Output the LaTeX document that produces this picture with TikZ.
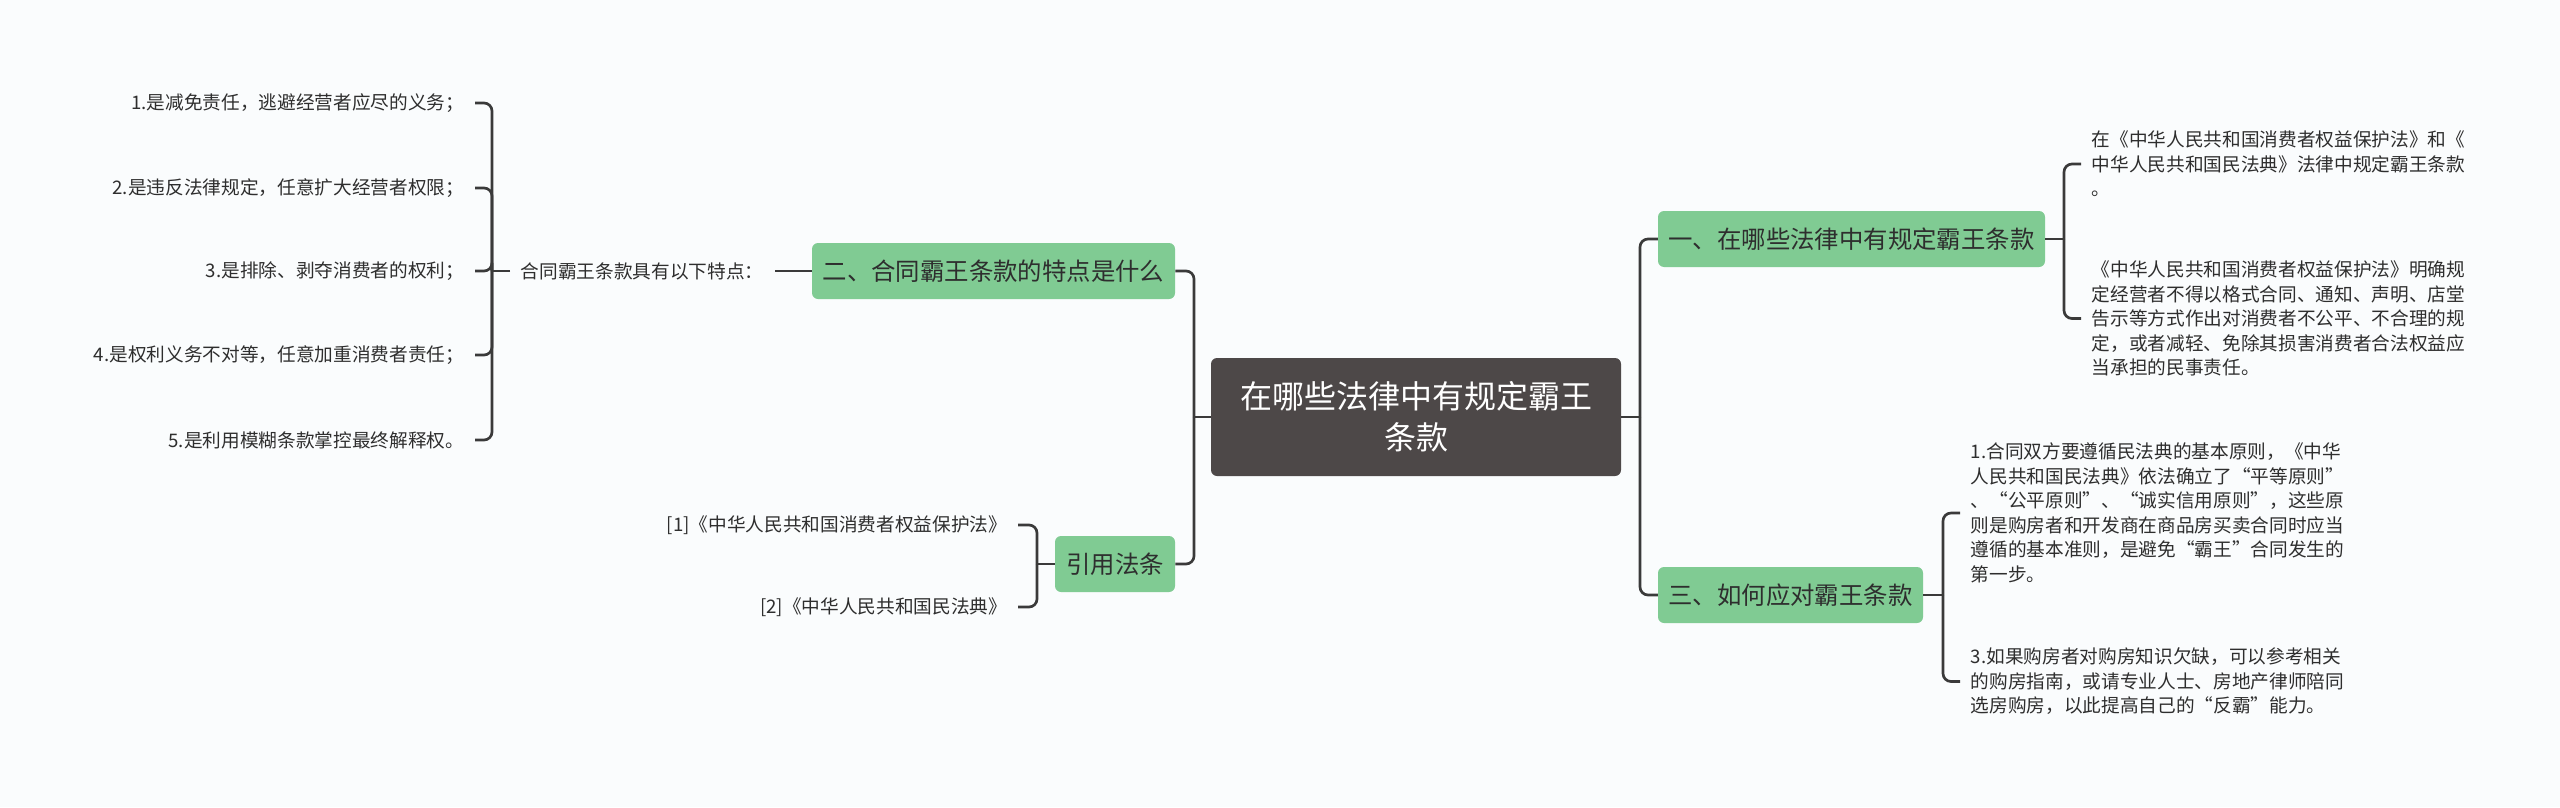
\documentclass[tikz,border=0pt]{standalone}
\usepackage{fontspec}
\setmainfont{Noto Sans CJK SC}
\definecolor{bgpaper}{HTML}{FAFCFD}
\definecolor{rootfill}{HTML}{4D4848}
\definecolor{topicfill}{HTML}{80CB93}
\definecolor{linkgray}{HTML}{3A3A3A}
\definecolor{inkgray}{HTML}{2E2E2E}
\begin{document}
\begin{tikzpicture}[
    x=0.75pt, y=-0.75pt,
    link/.style={draw=linkgray, line width=2pt, rounded corners=6pt},
    rootbox/.style={fill=rootfill, rounded corners=4.5pt, text=white,
                    align=center, minimum width=307.5pt, minimum height=88.5pt,
                    font=\fontsize{24pt}{30.75pt}\selectfont},
    topic/.style={fill=topicfill, rounded corners=4.5pt, text=inkgray,
                  minimum height=42pt, inner xsep=4pt,
                  font=\fontsize{18.3pt}{22pt}\selectfont},
    leaf/.style={text=inkgray, inner xsep=8pt, inner ysep=0pt, align=left,
                 font=\fontsize{14pt}{18.4pt}\selectfont}]
  \fill[bgpaper] (0,0) rectangle (2560,807);

  % centre and main topics
  \node[rootbox] (root) at (1416,417) {在哪些法律中有规定霸王\\条款};
  \node[topic, minimum width=290.25pt] (law)   at (1851.5,239) {一、在哪些法律中有规定霸王条款};
  \node[topic, minimum width=198.75pt] (cope)  at (1790.5,595) {三、如何应对霸王条款};
  \node[topic, minimum width=272.25pt] (trait) at (993.5,271)  {二、合同霸王条款的特点是什么};
  \node[topic, minimum width=90pt]     (cite)  at (1115,564)   {引用法条};

  % leaves of 二
  \node[leaf, anchor=west] (lead) at (510,271) {合同霸王条款具有以下特点：};
  \node[leaf, anchor=east] (tr1) at (475,103) {1.是减免责任，逃避经营者应尽的义务；};
  \node[leaf, anchor=east] (tr2) at (475,188) {2.是违反法律规定，任意扩大经营者权限；};
  \node[leaf, anchor=east] (tr3) at (475,271) {3.是排除、剥夺消费者的权利；};
  \node[leaf, anchor=east] (tr4) at (475,355) {4.是权利义务不对等，任意加重消费者责任；};
  \node[leaf, anchor=east] (tr5) at (475,440) {5.是利用模糊条款掌控最终解释权。};

  % leaves of 引用法条
  \node[leaf, anchor=east] (ref1) at (1018,525) {[1]《中华人民共和国消费者权益保护法》};
  \node[leaf, anchor=east] (ref2) at (1018,607) {[2]《中华人民共和国民法典》};

  % leaves of 一
  \node[leaf, anchor=west] (law1) at (2081,164) {在《中华人民共和国消费者权益保护法》和《\\中华人民共和国民法典》法律中规定霸王条款\\。};
  \node[leaf, anchor=west] (law2) at (2081,318.5) {《中华人民共和国消费者权益保护法》明确规\\定经营者不得以格式合同、通知、声明、店堂\\告示等方式作出对消费者不公平、不合理的规\\定，或者减轻、免除其损害消费者合法权益应\\当承担的民事责任。};

  % leaves of 三
  \node[leaf, anchor=west] (cope1) at (1960,513) {1.合同双方要遵循民法典的基本原则，《中华\\人民共和国民法典》依法确立了“平等原则”\\、“公平原则”、“诚实信用原则”，这些原\\则是购房者和开发商在商品房买卖合同时应当\\遵循的基本准则，是避免“霸王”合同发生的\\第一步。};
  \node[leaf, anchor=west] (cope2) at (1960,681.5) {3.如果购房者对购房知识欠缺，可以参考相关\\的购房指南，或请专业人士、房地产律师陪同\\选房购房，以此提高自己的“反霸”能力。};

  % junctions
  \coordinate (rj) at (1640,417);
  \coordinate (lj) at (1194,417);
  \coordinate (lawj) at (2064,239);
  \coordinate (copej) at (1943,595);
  \coordinate (traitj) at (492,271);
  \coordinate (citej) at (1037,564);

  % connectors
  \draw[link] (root.east) -- (rj);
  \draw[link] (rj) |- (law.west);
  \draw[link] (rj) |- (cope.west);
  \draw[link] (root.west) -- (lj);
  \draw[link] (lj) |- (trait.east);
  \draw[link] (lj) |- (cite.east);

  \draw[link] (law.east) -- (lawj);
  \foreach \n in {law1,law2} \draw[link] (lawj) |- (\n.west);
  \draw[link] (cope.east) -- (copej);
  \foreach \n in {cope1,cope2} \draw[link] (copej) |- (\n.west);

  \draw[link] (trait.west) -- (lead.east);
  \draw[link] (lead.west) -- (traitj);
  \foreach \n in {tr1,tr2,tr3,tr4,tr5} \draw[link] (traitj) |- (\n.east);
  \draw[link] (cite.west) -- (citej);
  \foreach \n in {ref1,ref2} \draw[link] (citej) |- (\n.east);
\end{tikzpicture}
\end{document}
